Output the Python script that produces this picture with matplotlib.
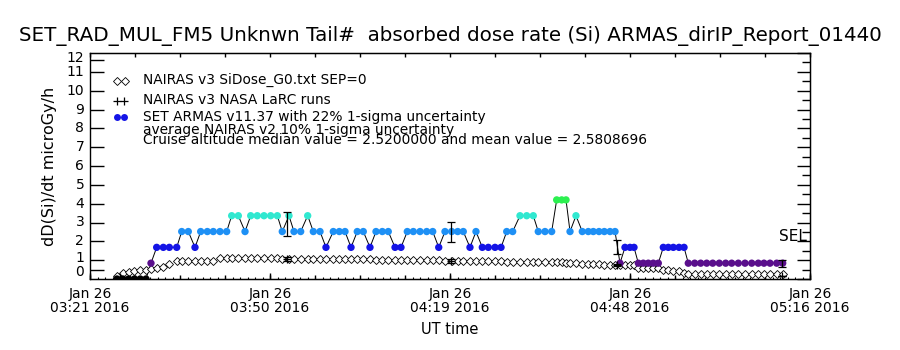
import numpy as np
import matplotlib
matplotlib.use("Agg")
import matplotlib.pyplot as plt
from matplotlib.ticker import FixedLocator, MultipleLocator

# ARMAS sample times, minutes after 03:21 UT
armas_min = [4.31, 5.24, 6.17, 7.09, 8.02, 8.94, 9.74, 10.65, 11.71, 12.67,
             13.85, 14.65, 15.70, 16.77, 17.68, 18.74, 19.69, 20.76, 21.83, 22.63,
             23.69, 24.76, 25.67, 26.72, 27.79, 28.86, 29.92, 30.71, 31.78, 32.58,
             33.65, 34.77, 35.67, 36.74, 37.69, 38.86, 39.82, 40.73, 41.69, 42.69,
             43.65, 44.72, 45.68, 46.69, 47.64, 48.72, 49.67, 50.68, 51.64, 52.71,
             53.78, 54.74, 55.70, 56.70, 57.77, 58.73, 59.62, 60.69, 61.65, 62.66,
             63.62, 64.69, 65.65, 66.56, 67.51, 68.68, 69.75, 70.80, 71.60, 72.67,
             73.74, 74.54, 75.34, 76.03, 76.67, 77.62, 78.63, 79.59, 80.39, 81.30,
             82.15, 83.06, 83.86, 84.65, 85.45, 86.25, 86.89, 87.58, 88.37, 89.17,
             89.97, 90.77, 91.57, 92.37, 93.17, 94.08, 94.88, 95.56, 96.58, 97.54,
             98.50, 99.46, 100.51, 101.53, 102.49, 103.55, 104.62, 105.69, 106.74, 107.65,
             108.61, 109.68, 110.64]

# ARMAS dose rate (microGy/h)
armas_dose = [0, 0, 0, 0, 0, 0, 0.84, 1.68, 1.68, 1.68,
              1.68, 2.52, 2.52, 1.68, 2.52, 2.52, 2.52, 2.52, 2.52, 3.36,
              3.36, 2.52, 3.36, 3.36, 3.36, 3.36, 3.36, 2.52, 3.36, 2.52,
              2.52, 3.36, 2.52, 2.52, 1.68, 2.52, 2.52, 2.52, 1.68, 2.52,
              2.52, 1.68, 2.52, 2.52, 2.52, 1.68, 1.68, 2.52, 2.52, 2.52,
              2.52, 2.52, 1.68, 2.52, 2.52, 2.52, 2.52, 1.68, 2.52, 1.68,
              1.68, 1.68, 1.68, 2.52, 2.52, 3.36, 3.36, 3.36, 2.52, 2.52,
              2.52, 4.2, 4.2, 4.2, 2.52, 3.36, 2.52, 2.52, 2.52, 2.52,
              2.52, 2.52, 2.52, 0.84, 1.68, 1.68, 1.68, 0.84, 0.84, 0.84,
              0.84, 0.84, 1.68, 1.68, 1.68, 1.68, 1.68, 0.84, 0.84, 0.84,
              0.84, 0.84, 0.84, 0.84, 0.84, 0.84, 0.84, 0.84, 0.84, 0.84,
              0.84, 0.84, 0.84]

# NAIRAS v3 SiDose at the same times
nairas_dose = [0.16, 0.30, 0.39, 0.45, 0.48, 0.50, 0.55, 0.60, 0.62, 0.80,
               0.96, 0.96, 0.96, 0.96, 0.96, 0.96, 0.96, 1.10, 1.10, 1.10,
               1.10, 1.10, 1.10, 1.10, 1.10, 1.10, 1.09, 1.08, 1.05, 1.05,
               1.05, 1.05, 1.05, 1.05, 1.05, 1.05, 1.05, 1.05, 1.04, 1.04,
               1.04, 1.04, 1.03, 1.03, 1.03, 1.03, 1.00, 1.00, 1.00, 1.00,
               1.00, 1.00, 1.00, 0.96, 0.96, 0.95, 0.95, 0.95, 0.94, 0.94,
               0.93, 0.93, 0.93, 0.89, 0.89, 0.89, 0.89, 0.89, 0.89, 0.88,
               0.88, 0.88, 0.88, 0.83, 0.83, 0.83, 0.82, 0.82, 0.77, 0.77,
               0.76, 0.76, 0.76, 0.72, 0.72, 0.72, 0.72, 0.60, 0.60, 0.60,
               0.60, 0.60, 0.50, 0.48, 0.45, 0.40, 0.30, 0.28, 0.28, 0.27,
               0.27, 0.27, 0.26, 0.26, 0.26, 0.26, 0.26, 0.25, 0.25, 0.25,
               0.25, 0.25, 0.25]

# averages with uncertainty
avg_min = [31.42, 57.61, 84.13, 110.48]
armas_avg = [2.93, 2.51, 1.69, 0.83]
armas_err = [0.645, 0.53, 0.38, 0.18]
larc_min = [4.79, 31.42, 57.61, 84.13, 110.48]
larc_dose = [0.10, 1.07, 0.96, 0.74, 0.16]
larc_err = [0.01, 0.10, 0.10, 0.07, 0.02]

level_colors = {0: "black", 0.84: "#5a0f8c", 1.68: "#1414e6", 2.52: "#1e90f5",
                3.36: "#30e8d0", 4.2: "#2cf050"}

xtick_min = [0, 28.75, 57.5, 86.25, 115]
xtick_labels = ["Jan 26\n03:21 2016", "Jan 26\n03:50 2016", "Jan 26\n04:19 2016",
                "Jan 26\n04:48 2016", "Jan 26\n05:16 2016"]
# left axis ticks as drawn (end ticks sit inside the frame) and where their labels sit
ytick_pos = [0.47, 1, 2, 3, 4, 5, 6, 7, 8, 9, 10, 11, 11.62]
ylabel_pos = [0.37, 1.14, 2, 3, 4, 5, 6, 7, 8, 9, 10, 10.97, 11.76]
ytick_labels = ["0", "1", "2", "3", "4", "5", "6", "7", "8", "9", "10", "11", "12"]

plt.rcParams['font.family'] = ['DejaVu Sans']

fig = plt.figure(figsize=(9, 3.5), dpi=100)
ax = fig.add_axes([0.1, 71 / 350, 0.8, 226 / 350])

ax.plot(armas_min, armas_dose, color="black", lw=0.7, zorder=2)
cols = [level_colors[v] for v in armas_dose]
ax.scatter(armas_min, armas_dose, c=cols, s=28, marker="o", linewidths=0, zorder=3)
ax.plot(armas_min, nairas_dose, ls="none", marker="D", ms=3.6, mfc="white",
        mec="black", mew=0.6, zorder=2)
ax.errorbar(avg_min, armas_avg, yerr=armas_err, fmt="none", ecolor="black",
            elinewidth=0.9, capsize=3, capthick=0.9, zorder=4)
ax.errorbar(larc_min, larc_dose, yerr=larc_err, fmt="+", color="black", ms=6,
            mew=0.9, elinewidth=0.9, capsize=3, capthick=0.9, zorder=4)

ax.set_xlim(0, 115)
ax.set_ylim(0, 12)
for s in ax.spines.values():
    s.set_linewidth(1.0)

# y axis
ax.yaxis.set_major_locator(FixedLocator(ytick_pos))
ax.tick_params(axis="y", which="major", direction="in", length=10, width=1,
               labelleft=False, right=False)
ylab_tr = ax.get_yaxis_transform()
for yv, lab in zip(ylabel_pos, ytick_labels):
    ax.text(-0.008, yv, lab, transform=ylab_tr, ha="right", va="center", fontsize=10)
ax.set_ylabel("dD(Si)/dt microGy/h", fontsize=11.5, labelpad=24)

# right axis ticks
sec_r = ax.secondary_yaxis("right")
sec_r.yaxis.set_major_locator(MultipleLocator(1))
sec_r.yaxis.set_minor_locator(MultipleLocator(0.5))
sec_r.tick_params(which="major", direction="in", length=9.5, width=1, labelright=False)
sec_r.tick_params(which="minor", direction="in", length=5.8, width=1)
ax.text(114.5, 2.25, "SEL", ha="right", va="center", fontsize=11)

# x axis
ax.xaxis.set_major_locator(FixedLocator(xtick_min))
ax.set_xticklabels(xtick_labels, fontsize=10, linespacing=1.0)
ax.xaxis.set_minor_locator(MultipleLocator(115 / 96))
ax.tick_params(axis="x", which="major", direction="in", length=4.5, width=1, pad=6, top=False)
ax.tick_params(axis="x", which="minor", direction="in", length=1.8, width=0.8, top=False)
sec_b = ax.secondary_xaxis("bottom")
sec_b.xaxis.set_major_locator(MultipleLocator(115 / 16))
sec_b.tick_params(direction="in", length=3, width=1, labelbottom=False)
sec_t = ax.secondary_xaxis("top")
sec_t.xaxis.set_major_locator(MultipleLocator(115 / 16))
sec_t.tick_params(direction="in", length=3, width=1, labeltop=False)
ax.set_xlabel("UT time", fontsize=10.5, labelpad=5)

fig.text(0.5, 1 - 36 / 350,
         "SET_RAD_MUL_FM5 Unknwn Tail#  absorbed dose rate (Si) ARMAS_dirIP_Report_01440",
         ha="center", va="center", fontsize=14.3)

# legend block (the last two lines crowd each other, as in the original report)
lx = 143 / 900
fs = 9.9
fig.text(lx, 1 - 80 / 350, "NAIRAS v3 SiDose_G0.txt SEP=0", fontsize=fs, va="center")
fig.text(lx, 1 - 100 / 350, "NAIRAS v3 NASA LaRC runs", fontsize=fs, va="center")
fig.text(lx, 1 - 117 / 350, "SET ARMAS v11.37 with 22% 1-sigma uncertainty", fontsize=fs, va="center")
fig.text(lx, 1 - 130.5 / 350, "average NAIRAS v2 10% 1-sigma uncertainty", fontsize=fs, va="center")
fig.text(lx, 1 - 140.5 / 350, "Cruise altitude median value = 2.5200000 and mean value = 2.5808696",
         fontsize=fs, va="center")
fig.lines.append(plt.Line2D([117 / 900, 125 / 900], [1 - 81 / 350] * 2, transform=fig.transFigure,
                            ls="none", marker="D", ms=3.6, mfc="white", mec="black", mew=0.6))
fig.lines.append(plt.Line2D([117 / 900, 124 / 900], [1 - 101 / 350] * 2, transform=fig.transFigure,
                            ls="none", marker="+", ms=6, mec="black", mew=0.9))
fig.lines.append(plt.Line2D([117 / 900, 124 / 900], [1 - 117 / 350] * 2, transform=fig.transFigure,
                            ls="none", marker="o", ms=5, mfc="#1414e6", mec="none"))

fig.savefig("out.png", dpi=100)
